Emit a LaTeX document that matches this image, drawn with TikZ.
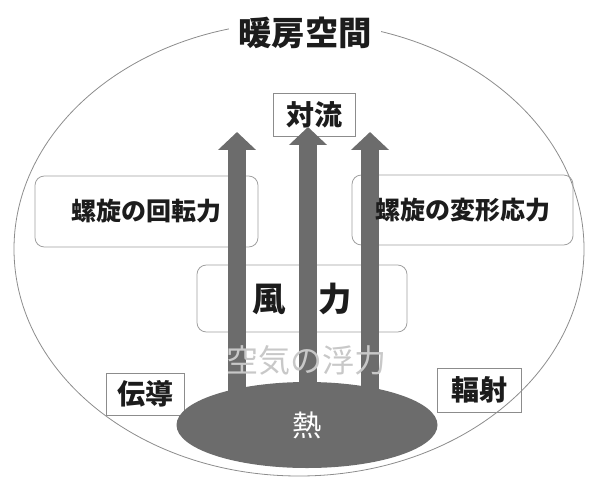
\documentclass[tikz,border=0pt]{standalone}
\usepackage{fontspec}
\newfontfamily\cjk{Noto Sans CJK JP}
\usetikzlibrary{shapes.geometric,arrows.meta}
\definecolor{arrowgray}{RGB}{108,108,108}
\definecolor{textblack}{RGB}{28,28,28}
\definecolor{floatgray}{RGB}{200,200,200}
\definecolor{linegray}{RGB}{140,140,140}
\definecolor{boxgray}{RGB}{160,160,160}
\tikzset{
  room/.style={ellipse, draw=linegray, line width=0.6pt, minimum width=427.5pt, minimum height=340.5pt, inner sep=0pt},
  rbox/.style={draw=boxgray, rounded corners=7pt, line width=0.6pt, inner sep=0pt},
  sbox/.style={draw=linegray, line width=0.6pt, inner sep=0pt},
  bigarrow/.style={draw=arrowgray, line width=13.5pt, -{Triangle[width=27.75pt,length=13.5pt]}},
  lbl/.style={text=textblack, inner sep=0pt, font=\cjk\bfseries\fontsize{18.75pt}{20pt}\selectfont},
  heatshape/.style={ellipse, fill=arrowgray, minimum width=195.75pt, minimum height=64.5pt, inner sep=0pt},
}
\begin{document}
\begin{tikzpicture}[x=0.75pt,y=-0.75pt]
\useasboundingbox (0,0) rectangle (598,477);
\node[room] (room) at (299,249) {};
\node[fill=white, inner xsep=7pt, inner ysep=3pt, text=textblack, font=\cjk\bfseries\fontsize{25pt}{27pt}\selectfont] (title) at (305,33) {暖房空間};
% boxes
\node[sbox, minimum width=61.5pt, minimum height=32.25pt] (conv) at (314,114.5) {};
\node[rbox, minimum width=167.25pt, minimum height=53.25pt] (rot) at (146.5,211.5) {};
\node[rbox, minimum width=165.75pt, minimum height=52.5pt] (def) at (462.5,210) {};
\node[rbox, minimum width=157.5pt, minimum height=50.25pt] (wind) at (302,298.5) {};
\node[sbox, minimum width=58.5pt, minimum height=31.5pt] (cond) at (145,394) {};
\node[sbox, minimum width=63pt, minimum height=33pt] (rad) at (479,390) {};
\node[heatshape] (heat) at (307,425) {};
% arrows
\coordinate (t1) at (237,132);
\coordinate (t2) at (308,127);
\coordinate (t3) at (370,132);
\draw[bigarrow] (t1 |- heat.center) -- (t1);
\draw[bigarrow] (t2 |- heat.center) -- (t2);
\draw[bigarrow] (t3 |- heat.center) -- (t3);
% texts
\node[lbl, font=\cjk\bfseries\fontsize{21pt}{23pt}\selectfont] at (conv.center) {対流};
\node[lbl] at (rot.center) {螺旋の回転力};
\node[lbl] at (def.center) {螺旋の変形応力};
\node[lbl, font=\cjk\bfseries\fontsize{25pt}{27pt}\selectfont] at (wind.center) {風　力};
\node[lbl, font=\cjk\bfseries\fontsize{21pt}{23pt}\selectfont] at (cond.center) {伝導};
\node[lbl, font=\cjk\bfseries\fontsize{21pt}{23pt}\selectfont] at (rad.center) {輻射};
\node[text=floatgray, inner sep=0pt, font=\cjk\fontsize{24pt}{26pt}\selectfont] (float) at (306,360) {空気の浮力};
\node[text=white, inner sep=0pt, font=\cjk\fontsize{22pt}{24pt}\selectfont] at (heat.center) {熱};
\end{tikzpicture}
\end{document}
